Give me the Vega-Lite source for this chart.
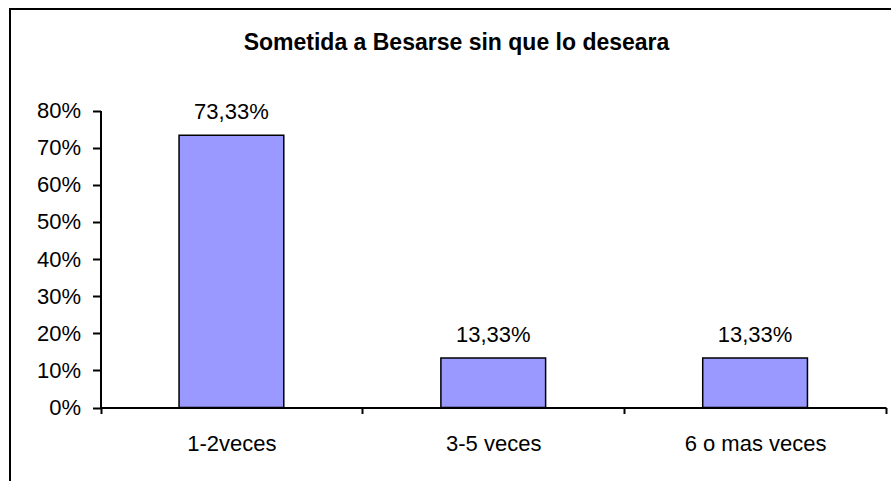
{
  "$schema": "https://vega.github.io/schema/vega-lite/v6.json",
  "width": 881,
  "height": 472,
  "autosize": "none",
  "padding": {"left": 10, "top": 9, "right": 0, "bottom": 0},
  "background": "white",
  "config": {
    "locale": {"number": {"decimal": ",", "thousands": ".", "grouping": [3], "currency": ["", " €"]}},
    "view": {"stroke": "black", "strokeWidth": 2, "strokeDash": [1353, 1353], "strokeDashOffset": 472},
    "font": "Liberation Sans"
  },
  "title": {
    "text": "Sometida a Besarse sin que lo deseara",
    "fontSize": 23,
    "fontWeight": "bold",
    "font": "Liberation Sans",
    "color": "black",
    "anchor": "middle",
    "baseline": "alphabetic",
    "offset": -64,
    "dx": 6
  },
  "data": {
    "values": [
      {"categoria": "1-2veces", "porcentaje": 0.7333},
      {"categoria": "3-5 veces", "porcentaje": 0.1333},
      {"categoria": "6 o mas veces", "porcentaje": 0.1333}
    ]
  },
  "encoding": {
    "x": {
      "field": "categoria",
      "type": "nominal",
      "sort": null,
      "scale": {"range": [90.5, 876], "paddingInner": 0, "paddingOuter": 0},
      "axis": {
        "title": null,
        "orient": "bottom",
        "offset": -73.5,
        "labelAngle": 0,
        "labelFontSize": 22,
        "labelColor": "black",
        "labelPadding": 20,
        "tickSize": 6,
        "tickWidth": 2,
        "tickColor": "black",
        "domainColor": "black",
        "domainWidth": 2,
        "tickBand": "extent",
        "grid": false
      }
    },
    "y": {
      "field": "porcentaje",
      "type": "quantitative",
      "scale": {"domain": [0, 0.8], "range": [398.5, 101.5], "nice": false},
      "axis": {
        "title": null,
        "offset": -90.5,
        "values": [0, 0.1, 0.2, 0.3, 0.4, 0.5, 0.6, 0.7, 0.8],
        "format": ".0%",
        "labelFontSize": 22,
        "labelColor": "black",
        "labelPadding": 12,
        "tickSize": 8,
        "tickWidth": 2,
        "tickColor": "black",
        "domainColor": "black",
        "domainWidth": 2,
        "grid": false
      }
    }
  },
  "layer": [
    {"mark": {"type": "bar", "width": {"band": 0.4}, "fill": "#9999FF", "stroke": "black", "strokeWidth": 1.5}},
    {
      "mark": {"type": "text", "baseline": "alphabetic", "dy": -16, "fontSize": 22, "color": "black"},
      "encoding": {"text": {"field": "porcentaje", "type": "quantitative", "format": ".2%"}}
    }
  ]
}
